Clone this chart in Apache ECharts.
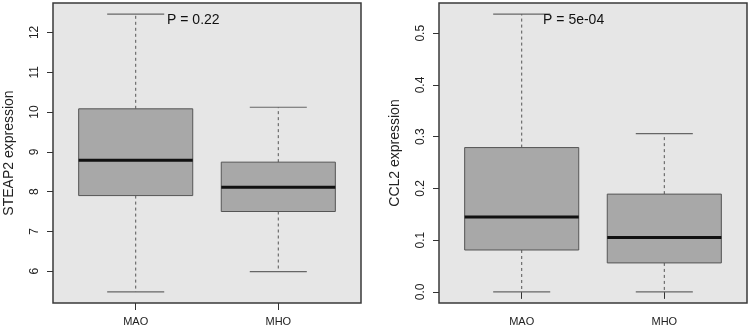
<!DOCTYPE html>
<html>
<head>
<meta charset="utf-8">
<script src="https://cdn.jsdelivr.net/npm/echarts@6/dist/echarts.min.js"></script>
<style>
  html, body { margin: 0; padding: 0; background: #fff; }
  #chart { width: 750px; height: 328px; }
</style>
</head>
<body>
<div id="chart"></div>
<script>
// groups on the x axis
const categories = ['MAO', 'MHO']
// [min, Q1, median, Q3, max] per group
const steap2Stats = [
  [5.48, 7.90, 8.79, 10.08, 12.46],
  [5.99, 7.50, 8.11, 8.74, 10.12]
]
const ccl2Stats = [
  [0.000, 0.081, 0.145, 0.279, 0.537],
  [0.000, 0.056, 0.105, 0.189, 0.306]
]
const steap2Ticks = [6, 7, 8, 9, 10, 11, 12]
const ccl2Ticks = [0, 0.1, 0.2, 0.3, 0.4, 0.5]
const pTexts = ['P = 0.22', 'P = 5e-04']
// where the p value text sits, in data units [x, y]
const pTextPos = [[1.22, 12.31], [1.15, 0.526]]

const FONT = 'Liberation Sans, Arial, sans-serif'

// R style range: data range plus 4% on each side
function paddedRange(stats) {
  const lo = Math.min(...stats.map(s => s[0]))
  const hi = Math.max(...stats.map(s => s[4]))
  const pad = (hi - lo) * 0.04
  return [lo - pad, hi + pad]
}

function renderBox(params, api) {
  const x = api.value(0)
  const mn = api.coord([x, api.value(1)])
  const q1 = api.coord([x, api.value(2)])
  const md = api.coord([x, api.value(3)])
  const q3 = api.coord([x, api.value(4)])
  const mx = api.coord([x, api.value(5)])
  const boxW = api.size([0.8, 0])[0]
  const capW = boxW / 2
  const cx = mn[0]
  const whisk = { stroke: '#555', lineWidth: 1, lineDash: [3, 3] }
  const cap = { stroke: '#666', lineWidth: 1.2 }
  return {
    type: 'group',
    children: [
      { type: 'line', shape: { x1: cx, y1: q3[1], x2: cx, y2: mx[1] }, style: whisk },
      { type: 'line', shape: { x1: cx, y1: q1[1], x2: cx, y2: mn[1] }, style: whisk },
      { type: 'line', shape: { x1: cx - capW / 2, y1: mx[1], x2: cx + capW / 2, y2: mx[1] }, style: cap },
      { type: 'line', shape: { x1: cx - capW / 2, y1: mn[1], x2: cx + capW / 2, y2: mn[1] }, style: cap },
      {
        type: 'rect',
        shape: { x: cx - boxW / 2, y: q3[1], width: boxW, height: q1[1] - q3[1] },
        style: { fill: '#a8a8a8', stroke: '#555', lineWidth: 1 }
      },
      {
        type: 'line',
        shape: { x1: cx - boxW / 2, y1: md[1], x2: cx + boxW / 2, y2: md[1] },
        style: { stroke: '#111', lineWidth: 3 }
      }
    ]
  }
}

// one p value text per panel
function makeTextRenderer(label) {
  return (params, api) => {
    const p = api.coord([api.value(0), api.value(1)])
    return {
      type: 'text',
      x: p[0],
      y: p[1],
      style: {
        text: label,
        fill: '#111',
        font: '14px ' + FONT,
        align: 'left',
        verticalAlign: 'middle'
      }
    }
  }
}

function xAxisFor(gridIndex) {
  return {
    type: 'value',
    gridIndex,
    min: 0.42,
    max: 2.58,
    splitLine: { show: false },
    axisLine: { show: false },
    axisTick: { show: true, customValues: [1, 2], length: 7, lineStyle: { color: '#333' } },
    axisLabel: {
      customValues: [1, 2],
      formatter: v => categories[Math.round(v) - 1],
      color: '#222',
      fontFamily: FONT,
      fontSize: 11,
      margin: 13
    }
  }
}

function yAxisFor(gridIndex, name, ticks, range, digits) {
  return {
    type: 'value',
    gridIndex,
    min: range[0],
    max: range[1],
    name,
    nameLocation: 'middle',
    nameGap: 37,
    nameTextStyle: { color: '#222', fontFamily: FONT, fontSize: 14 },
    splitLine: { show: false },
    axisLine: { show: false },
    axisTick: { show: true, customValues: ticks, length: 6, lineStyle: { color: '#333' } },
    axisLabel: {
      customValues: ticks,
      rotate: 90,
      formatter: v => v.toFixed(digits),
      color: '#222',
      fontFamily: FONT,
      fontSize: 12,
      margin: 12
    }
  }
}

const chart = echarts.init(document.getElementById('chart'))

const gridStyle = {
  show: true,
  top: 3,
  height: 300,
  backgroundColor: '#e6e6e6',
  borderColor: '#3a3a3a',
  borderWidth: 1.5
}

chart.setOption({
  animation: false,
  backgroundColor: '#fff',
  grid: [
    Object.assign({ left: 53, width: 308 }, gridStyle),
    Object.assign({ left: 439, width: 308 }, gridStyle)
  ],
  xAxis: [xAxisFor(0), xAxisFor(1)],
  yAxis: [
    yAxisFor(0, 'STEAP2 expression', steap2Ticks, paddedRange(steap2Stats), 0),
    yAxisFor(1, 'CCL2 expression', ccl2Ticks, paddedRange(ccl2Stats), 1)
  ],
  series: [
    {
      type: 'custom',
      xAxisIndex: 0,
      yAxisIndex: 0,
      renderItem: renderBox,
      data: categories.map((c, i) => [i + 1, ...steap2Stats[i]])
    },
    {
      type: 'custom',
      xAxisIndex: 1,
      yAxisIndex: 1,
      renderItem: renderBox,
      data: categories.map((c, i) => [i + 1, ...ccl2Stats[i]])
    },
    {
      type: 'custom',
      xAxisIndex: 0,
      yAxisIndex: 0,
      renderItem: makeTextRenderer(pTexts[0]),
      data: [pTextPos[0]]
    },
    {
      type: 'custom',
      xAxisIndex: 1,
      yAxisIndex: 1,
      renderItem: makeTextRenderer(pTexts[1]),
      data: [pTextPos[1]]
    }
  ]
})
</script>
</body>
</html>
